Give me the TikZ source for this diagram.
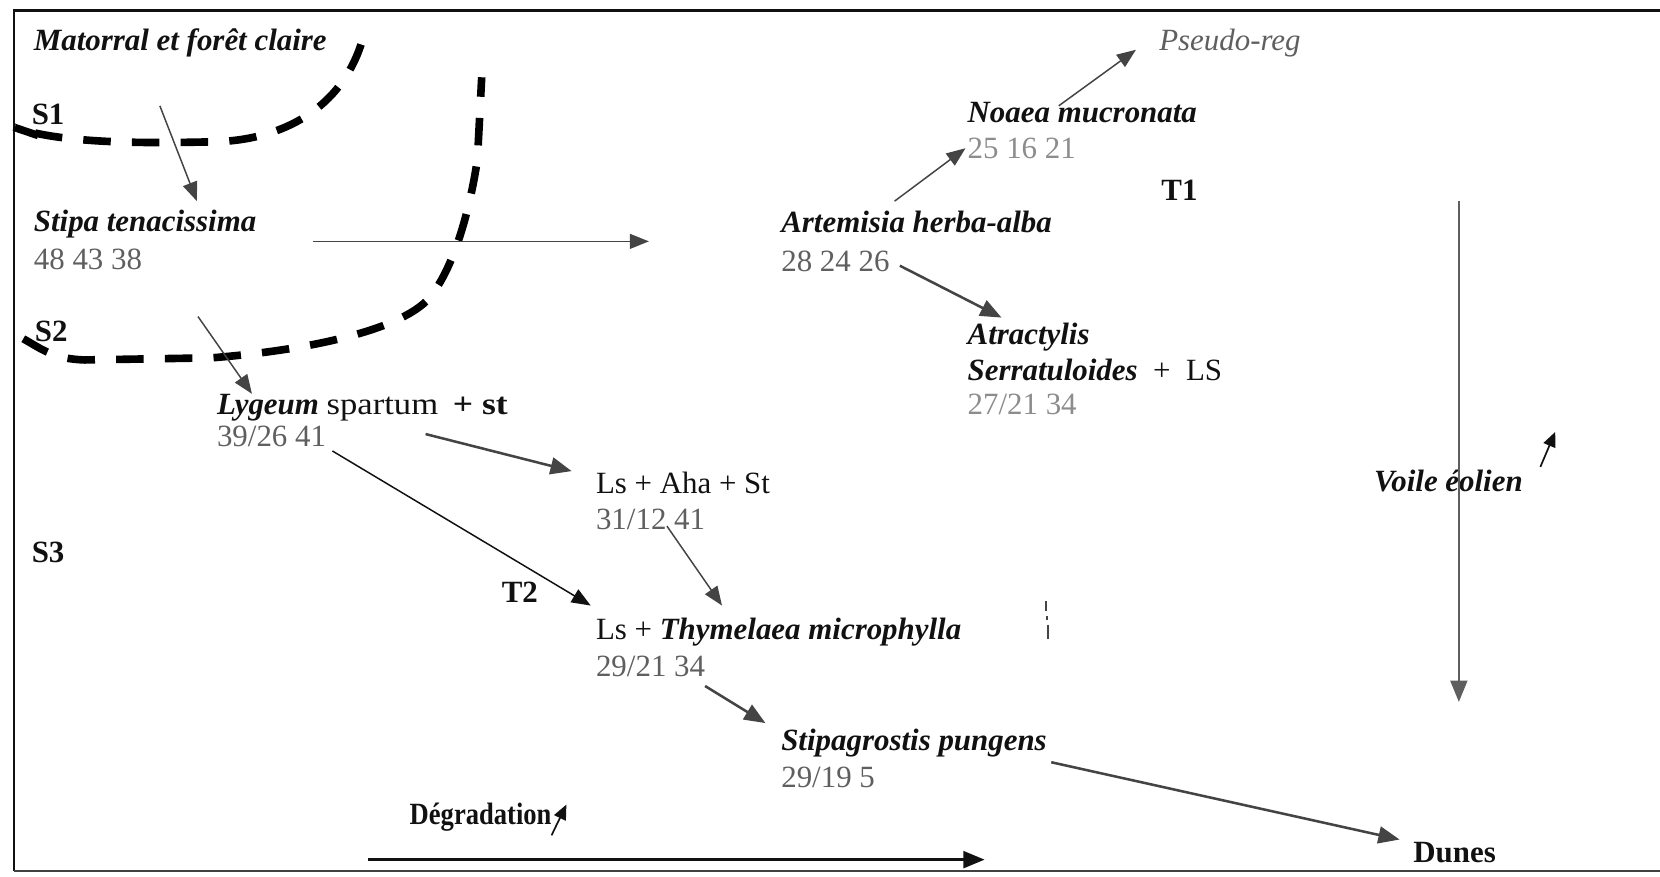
\documentclass[tikz,border=0pt]{standalone}
\usepackage{fontspec}
\setmainfont{Liberation Serif}
\usetikzlibrary{arrows.meta}
\definecolor{ink}{HTML}{111111}
\definecolor{arr}{HTML}{444444}
\definecolor{num}{HTML}{5f5f5f}
\definecolor{numl}{HTML}{8c8c8c}
\begin{document}
\begin{tikzpicture}[x=0.5pt,y=-0.5pt,
  every node/.style={inner sep=0pt,outer sep=0pt,anchor=base west,text=ink,font=\fontsize{14.6}{17}\selectfont},
  sp/.style={font=\fontsize{14.6}{17}\selectfont\bfseries\itshape},
  lbl/.style={font=\fontsize{14.6}{17}\selectfont\bfseries},
  nb/.style={text=num},
  nbl/.style={text=numl},
  conn/.style={draw=arr,line width=0.7pt,-{Triangle[length=9pt,width=7pt]}},
  connk/.style={draw=ink,line width=0.7pt,-{Triangle[length=9pt,width=7pt]}},
  thick conn/.style={draw=arr,line width=1.2pt,-{Triangle[length=10pt,width=8pt]}},
  small arr/.style={draw=ink,line width=0.8pt,-{Triangle[length=7pt,width=6pt]}},
  bnd/.style={draw=black,line width=3.6pt,dash pattern=on 13pt off 10pt}
]
\useasboundingbox (0,0) rectangle (1568,828);
% frame
\draw[ink,line width=1.1pt] (1568,10) -- (13,10) -- (13,823);
\draw[ink!80,line width=0.8pt] (13,823) -- (1568,823);

% texts
\node[sp] (mat) at (32,48) {Matorral et forêt claire};
\node[lbl] (s1) at (30,118) {S1};
\node[sp] (sti) at (32,219) {Stipa tenacissima};
\node[nb] (stin) at (32,255) {48 43 38};
\node[lbl] (s2) at (33,323) {S2};
\node (lyg) at (205,392) {\textbf{\textit{Lygeum}} \scalebox{1.12}[1]{spartum}\hspace{7pt}\textbf{\scalebox{1.15}[1]{+ st}}};
\node[nb] (lygn) at (205,422) {39/26 41};
\node[lbl] (s3) at (30,531) {S3};
\node (lah) at (563,466) {Ls + Aha + St};
\node[nb] (lahn) at (563,500) {31/12 41};
\node[lbl] (t2) at (474,569) {T2};
\node (thy) at (563,604) {Ls + \textbf{\textit{Thymelaea microphylla}}};
\node[nb] (thyn) at (563,639) {29/21 34};
\node[sp] (spg) at (738,709) {Stipagrostis pungens};
\node[nb] (spgn) at (738,744) {29/19 5};
\node[lbl] (deg) at (387,779) {\scalebox{0.86}[1]{Dégradation}};
\node[lbl] (dun) at (1335,815) {Dunes};
\node[sp] (art) at (738,220) {Artemisia herba-alba};
\node[nb] (artn) at (738,256) {28 24 26};
\node[sp] (noa) at (914,116) {Noaea mucronata};
\node[nbl] (noan) at (914,150) {25 16 21};
\node[lbl] (t1) at (1097,189) {T1};
\node[font=\fontsize{14.6}{17}\selectfont\itshape,text=num] (pse) at (1095,48) {Pseudo-reg};
\node[sp] (atr) at (914,325) {Atractylis};
\node (ser) at (914,359) {\textbf{\textit{Serratuloides}}~~+~~LS};
\node[nbl] (sern) at (914,392) {27/21 34};
\node[sp] (voi) at (1298,464) {Voile éolien};

% boundaries
\draw[bnd] (341,42) .. controls (322,100) and (270,133) .. (200,134)
  .. controls (150,135) and (60,137) .. (13,120);
\draw[draw=black,line width=3.6pt] (14,120.5) -- (36,128);
\draw[bnd] (22,320) .. controls (40,330) and (50,339) .. (80,340) -- (200,338)
  .. controls (300,330) and (380,310) .. (405,282)
  .. controls (432,250) and (446,185) .. (451,150) -- (455,73);

% connector end points
\coordinate (a1) at (151,100);  \coordinate (b1) at (186,190);
\coordinate (a2) at (187,299);  \coordinate (b2) at (238,372);
\coordinate (a3) at (296,228);  \coordinate (b3) at (613,228);
\coordinate (a4) at (845,190);  \coordinate (b4) at (912,140);
\coordinate (a5) at (1000,100); \coordinate (b5) at (1073,47);
\coordinate (a6) at (850,251);  \coordinate (b6) at (946,300);
\coordinate (a7) at (402,410);  \coordinate (b7) at (540,445);
\coordinate (a8) at (314,426);  \coordinate (b8) at (558,572);
\coordinate (a9) at (630,497);  \coordinate (b9) at (682,572);
\coordinate (a10) at (666,648); \coordinate (b10) at (723,683);
\coordinate (a11) at (993,720); \coordinate (b11) at (1322,793);
\coordinate (a12) at (1378,190); \coordinate (b12) at (1378,663);
\coordinate (a13) at (348,812); \coordinate (b13) at (930,812);
\coordinate (a14) at (521,789); \coordinate (b14) at (535,760);
\coordinate (a15) at (1455,441); \coordinate (b15) at (1469,408);

\draw[conn] (a1) -- (b1);
\draw[conn] (a2) -- (b2);
\draw[conn] (a3) -- (b3);
\draw[conn] (a4) -- (b4);
\draw[conn] (a5) -- (b5);
\draw[thick conn] (a6) -- (b6);
\draw[thick conn] (a7) -- (b7);
\draw[connk] (a8) -- (b8);
\draw[conn] (a9) -- (b9);
\draw[thick conn] (a10) -- (b10);
\draw[thick conn] (a11) -- (b11);
\draw[draw=num,line width=0.8pt,-{Triangle[length=10pt,width=8pt]}] (a12) -- (b12);
\draw[draw=ink,line width=1.1pt,-{Triangle[length=10pt,width=8pt]}] (a13) -- (b13);
\draw[small arr] (a14) -- (b14);
\draw[small arr] (a15) -- (b15);

% stray marks
\draw[arr,line width=1pt] (988,568) -- (988,577);
\draw[arr,line width=1pt] (989,582) -- (989,586);
\draw[arr,line width=1pt] (990,590) -- (990,604);
\end{tikzpicture}
\end{document}
